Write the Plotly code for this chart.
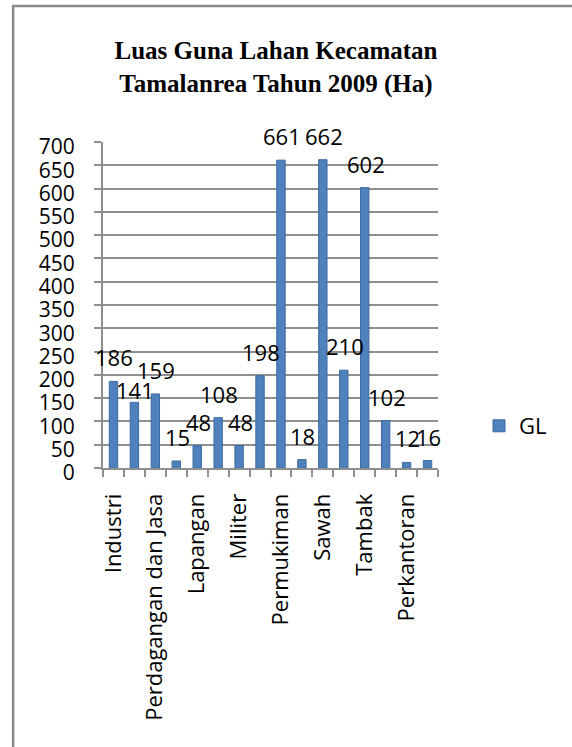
import plotly.graph_objects as go

# Data
values = [186, 141, 159, 15, 48, 108, 48, 198, 661, 18, 662, 210, 602, 102, 12, 16]
tick_positions = [0, 2, 4, 6, 8, 10, 12, 14]
tick_labels = ["Industri", "Perdagangan dan Jasa", "Lapangan", "Militer",
               "Permukiman", "Sawah", "Tambak", "Perkantoran"]
y_ticks = list(range(0, 701, 50))
series_name = "GL"
title_text = "<b>Luas Guna Lahan Kecamatan<br>Tamalanrea Tahun 2009 (Ha)</b>"

W, H = 572, 747
L, R, T, B = 103, 438.5, 142, 468
FONT = "Open Sans"
BLUE = "#4F81BD"
GRID = "#8f8f8f"

x = list(range(len(values)))

# label placement tweaks (pixels), as the source nudged a crowded label down
label_yshift = {i: 24 for i in x}
label_yshift[1] = 12

fig = go.Figure()
fig.add_trace(go.Bar(
    x=x, y=values, name=series_name, width=0.4,
    marker=dict(color=BLUE, line=dict(color="#3d6aa0", width=1)),
    showlegend=True,
))

annotations = []
for xi, v in zip(x, values):
    annotations.append(dict(
        x=xi, y=v, xref="x", yref="y", text=str(v), showarrow=False,
        yanchor="middle", xanchor="center", yshift=label_yshift[xi], xshift=1,
        font=dict(family=FONT, size=22, color="black"),
    ))

pw, ph = R - L, B - T
def px_to_x(p):
    return (p - L) / pw
def py_to_y(p):
    return (B - p) / ph

fig.update_layout(
    width=W, height=H, autosize=False,
    margin=dict(l=L, r=W - R, t=T, b=H - B, pad=0),
    paper_bgcolor="white", plot_bgcolor="white",
    title=dict(text=title_text, x=276 / W, xref="container", xanchor="center",
               y=1 - 59 / H, yref="container", yanchor="top",
               font=dict(family="Liberation Serif", size=25, color="black")),
    xaxis=dict(
        range=[-0.5, len(values) - 0.5],
        tickmode="array", tickvals=tick_positions, ticktext=tick_labels,
        tickangle=-90, ticks="", showgrid=False, zeroline=False,
        showline=True, linecolor=GRID, linewidth=2,
        tickfont=dict(family=FONT, size=22, color="black"),
        ticklabelstandoff=15,
        minor=dict(tick0=-0.5, dtick=1, ticks="outside", ticklen=7,
                   tickcolor=GRID, tickwidth=2, showgrid=False),
    ),
    yaxis=dict(
        range=[0, 700], tickmode="array", tickvals=y_ticks,
        ticks="outside", ticklen=7, tickcolor=GRID, tickwidth=2,
        showgrid=True, gridcolor=GRID, gridwidth=2, zeroline=False,
        showline=True, linecolor=GRID, linewidth=2,
        tickfont=dict(family=FONT, size=21, color="black"),
        ticklabelstandoff=15, ticklabelshift=5,
    ),
    legend=dict(x=479 / W, xref="container", xanchor="left",
                y=1 - 426 / H, yref="container", yanchor="middle",
                font=dict(family=FONT, size=22, color="black"),
                bgcolor="rgba(0,0,0,0)"),
    shapes=[dict(type="rect", xref="paper", yref="paper",
                 x0=px_to_x(13), x1=px_to_x(700), y0=py_to_y(900), y1=py_to_y(6),
                 line=dict(color="#8a8a8a", width=2.5), fillcolor="rgba(0,0,0,0)",
                 layer="below")],
    annotations=annotations,
    bargap=0.6,
)

fig.write_html("out.html")
